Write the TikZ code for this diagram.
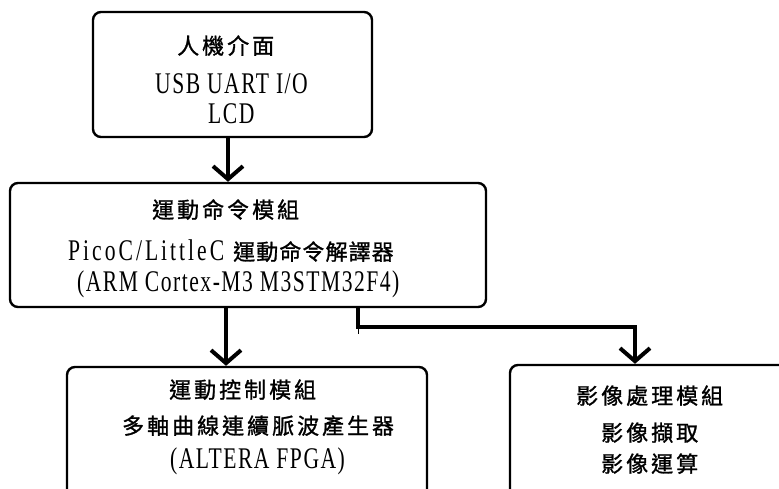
\documentclass[tikz,border=0pt]{standalone}
\usepackage{fontspec}
\usetikzlibrary{arrows.meta}
\setmainfont{Liberation Serif}[FakeStretch=0.72,LetterSpace=5]
\newfontfamily\zhfont{Noto Sans CJK TC}[LetterSpace=13.6,FakeBold=1.2]
\newfontfamily\zhtight{Noto Sans CJK TC}[LetterSpace=5,FakeBold=1.2]
\newfontfamily\lawide{Liberation Serif}[FakeStretch=0.72,LetterSpace=10]
\newcommand\zh[1]{{\zhfont\fontsize{22}{25}\selectfont #1}}
\newcommand\zht[1]{{\zhtight\fontsize{22}{25}\selectfont #1}}
\newcommand\la[1]{{\fontsize{30}{36}\selectfont #1}}
\newcommand\law[1]{{\lawide\fontsize{30}{36}\selectfont #1}}
\begin{document}
\begin{tikzpicture}[x=1pt,y=-1pt,
  box/.style={draw, line width=2.4pt, rounded corners=8pt, inner sep=0pt},
  arr/.style={line width=4pt, -{Straight Barb[length=13pt,width=30pt]}},
  txt/.style={anchor=base west, inner sep=0pt}]
\useasboundingbox (0,0) rectangle (779,488);
\clip (0,0) rectangle (779,488);
% boxes
\node[box, minimum width=279pt, minimum height=125pt] (top) at (232.5,74.5) {};
\node[box, minimum width=476pt, minimum height=124pt] (mid) at (248,245) {};
\node[box, minimum width=360pt, minimum height=173pt] (bl) at (247,453.5) {};
\node[box, minimum width=310pt, minimum height=175pt] (br) at (665,452.5) {};
% texts
\node[txt] (t1) at (177,54) {\zh{人機介面}};
\node[txt] (t2) at (155,93) {\la{USB UART I/O}};
\node[txt] (t3) at (208,123) {\la{LCD}};
\node[txt] (m1) at (152,218) {\zh{運動命令模組}};
\node[txt] (m2) at (68,260) {\law{PicoC/LittleC}\hspace{9pt}\zht{運動命令解譯器}};
\node[txt] (m3) at (77,291) {\la{(ARM Cortex-M3 M3STM32F4)}};
\node[txt] (l1) at (169,398) {\zh{運動控制模組}};
\node[txt] (l2) at (122,434) {\zh{多軸曲線連續脈波產生器}};
\node[txt] (l3) at (170,468) {\la{(ALTERA FPGA)}};
\node[txt] (r1) at (576,404) {\zh{影像處理模組}};
\node[txt] (r2) at (601,441) {\zh{影像擷取}};
\node[txt] (r3) at (601,472) {\zh{影像運算}};
% connectors
\coordinate (a1) at (228,0);
\coordinate (a2) at (226,0);
\coordinate (b1) at (358,327);
\coordinate (b2) at (635,327);
\coordinate (b1s) at (358,334);
\draw[arr] (top.south -| a1) -- (mid.north -| a1);
\draw[arr] (mid.south -| a2) -- (bl.north -| a2);
\draw[arr] (mid.south -| b1) -- (b1) -- (b2) -- (br.north -| b2);
\draw[line width=0.8pt] (b1) -- (b1s);
\end{tikzpicture}
\end{document}
